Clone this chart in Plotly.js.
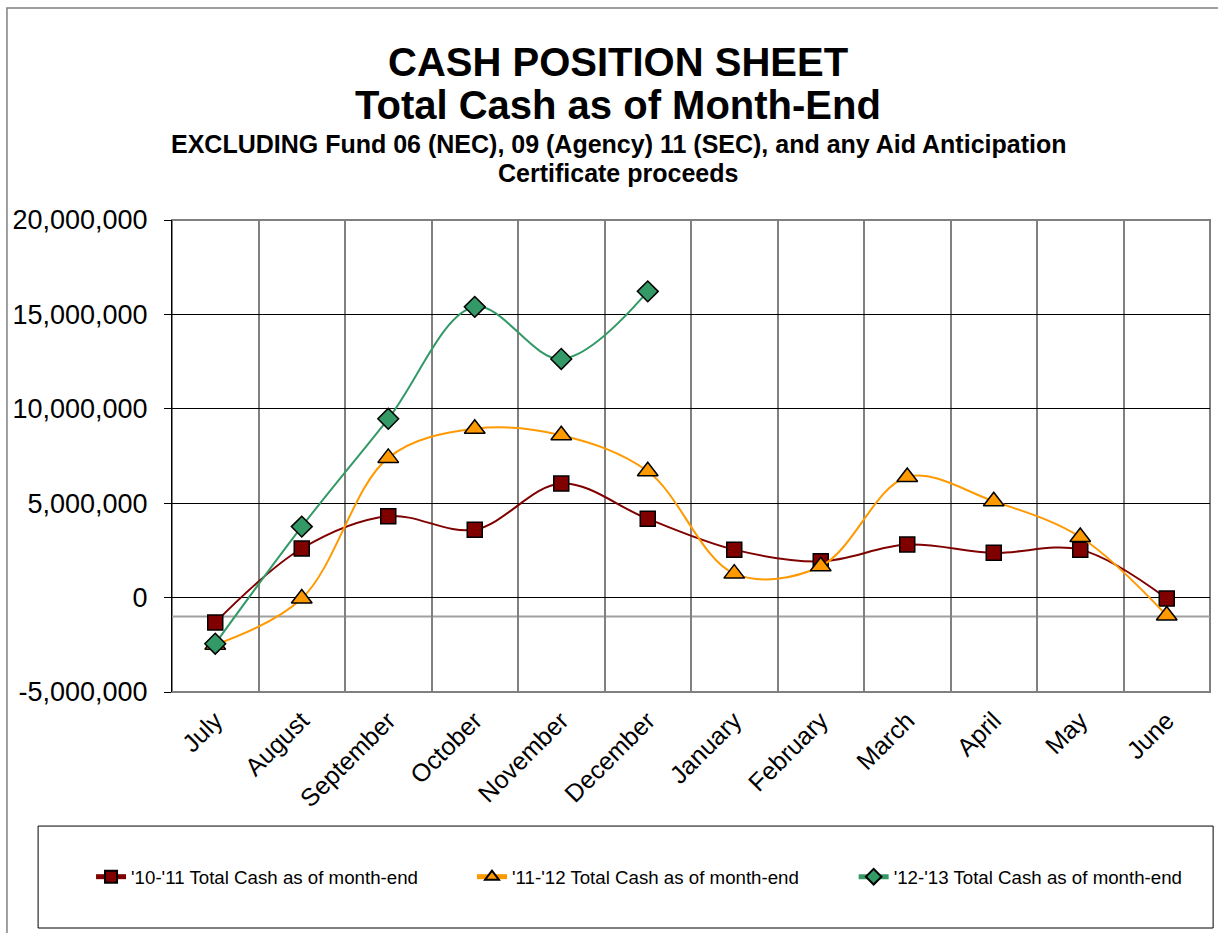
<!DOCTYPE html>
<html>
<head>
<meta charset="utf-8">
<script src="https://cdn.plot.ly/plotly-3.0.1.min.js"></script>
<style>
  body { margin: 0; background: #fff; }
  #chart { width: 1218px; height: 933px; }
</style>
</head>
<body>
<div id="chart"></div>
<script>
// month-end totals
var months = ['July', 'August', 'September', 'October', 'November', 'December',
              'January', 'February', 'March', 'April', 'May', 'June'];
var cash1011 = [-1320000, 2600000, 4310000, 3600000, 6040000, 4170000,
                2540000, 1920000, 2810000, 2370000, 2540000, -50000];
var cash1112 = [-2500000, -50000, 7400000, 8940000, 8600000, 6690000,
                1270000, 1660000, 6390000, 5100000, 3210000, -950000];
var cash1213 = [-2440000, 3760000, 9470000, 15400000, 12640000, 16220000];
var names = ["'10-'11 Total Cash as of month-end",
             "'11-'12 Total Cash as of month-end",
             "'12-'13 Total Cash as of month-end"];
var yTicks = [-5000000, 0, 5000000, 10000000, 15000000, 20000000];
var yTickText = ['-5,000,000', '0', '5,000,000', '10,000,000', '15,000,000', '20,000,000'];

var font = 'Liberation Sans, Arial, sans-serif';

function series(y, name, color, symbol, size, legend) {
  return {
    x: months.slice(0, y.length),
    y: y,
    name: name,
    legend: legend,
    type: 'scatter',
    mode: 'lines+markers',
    line: {color: color, width: 2, shape: 'spline', smoothing: 1},
    marker: {symbol: symbol, size: size, color: color, line: {color: '#000', width: 1.5}}
  };
}

var data = [
  series(cash1011, names[0], '#800000', 'square', 15, 'legend'),
  series(cash1112, names[1], '#FF9900', 'triangle-up', 18, 'legend2'),
  series(cash1213, names[2], '#339966', 'diamond', 16, 'legend3')
];

var titleLines = [
  {text: '<b>CASH POSITION SHEET</b>', y: 1.3347, size: 40},
  {text: '<b>Total Cash as of Month-End</b>', y: 1.2436, size: 40},
  {text: '<b>EXCLUDING Fund 06 (NEC), 09 (Agency) 11 (SEC), and any Aid Anticipation</b>', y: 1.161, size: 25},
  {text: '<b>Certificate proceeds</b>', y: 1.0996, size: 25}
];
var annotations = titleLines.map(function(t) {
  return {
    text: t.text, xref: 'paper', yref: 'paper', x: 0.4297, y: t.y,
    xanchor: 'center', yanchor: 'middle', showarrow: false,
    font: {family: font, size: t.size, color: '#000'}
  };
});

// one legend per series so each entry sits where the sheet puts it
function legendAt(x) {
  return {
    orientation: 'h',
    x: x,
    xanchor: 'left',
    y: -0.392,
    yanchor: 'middle',
    itemsizing: 'constant',
    font: {family: font, size: 18.7, color: '#000'},
    bgcolor: 'rgba(0,0,0,0)'
  };
}

var layout = {
  width: 1218,
  height: 933,
  margin: {l: 172, r: 8, t: 220, b: 241},
  paper_bgcolor: '#fff',
  plot_bgcolor: '#fff',
  font: {family: font, color: '#000'},
  showlegend: true,
  legend: legendAt(-0.078),
  legend2: legendAt(0.289),
  legend3: legendAt(0.6567),
  xaxis: {
    type: 'category',
    tickson: 'boundaries',
    showgrid: true,
    gridcolor: '#808080',
    gridwidth: 2,
    showline: false,
    ticks: '',
    tickangle: -45,
    ticklabelstandoff: 8,
    tickfont: {family: font, size: 25, color: '#000'},
    range: [-0.5, 11.5]
  },
  yaxis: {
    range: [-5000000, 20000000],
    tickmode: 'array',
    tickvals: yTicks,
    ticktext: yTickText,
    showgrid: true,
    gridcolor: '#000',
    gridwidth: 1,
    zeroline: true,
    zerolinecolor: '#000',
    zerolinewidth: 1,
    showline: true,
    linecolor: '#000',
    linewidth: 1,
    ticks: 'outside',
    ticklen: 7,
    tickcolor: '#000',
    ticklabelstandoff: 11,
    tickfont: {family: font, size: 27, color: '#000'}
  },
  annotations: annotations,
  shapes: [
    // plot area frame
    {type: 'rect', xref: 'paper', yref: 'paper', x0: 0, x1: 1, y0: 0, y1: 1,
     line: {color: '#808080', width: 2}, layer: 'below'},
    // grey rule just below zero
    {type: 'line', xref: 'paper', yref: 'y', x0: 0, x1: 1, y0: -1000000, y1: -1000000,
     line: {color: '#a0a0a0', width: 2}, layer: 'below'},
    // legend box
    {type: 'rect', xref: 'paper', yref: 'paper', x0: -0.129, x1: 1.003, y0: -0.5, y1: -0.284,
     line: {color: '#000', width: 1}},
    // outer chart border (right and bottom edges fall off the page)
    {type: 'rect', xref: 'paper', yref: 'paper', x0: -0.159, x1: 1.1, y0: -1, y1: 1.449,
     line: {color: '#808080', width: 1.5}}
  ]
};

Plotly.newPlot('chart', data, layout, {displayModeBar: false, staticPlot: true});
</script>
</body>
</html>
